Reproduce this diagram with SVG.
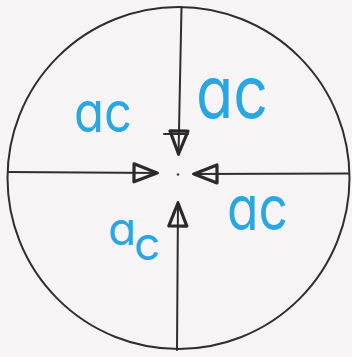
<svg xmlns="http://www.w3.org/2000/svg" width="352" height="357" viewBox="0 0 352 357">
<style>
.ln{stroke:#2e2e2e;stroke-width:2;fill:none;stroke-linecap:round}
.lbl{font-family:Inter,"Noto Sans",sans-serif;font-weight:400;fill:#2aa7e0;font-feature-settings:"cv11" 1}
</style>
<defs>
<marker id="ah" markerUnits="userSpaceOnUse" markerWidth="34" markerHeight="30" viewBox="-30 -15 34 30" refX="0" refY="0" orient="auto">
<path d="M-24,-9 L-24,9 L-1,0 Z" fill="none" stroke="#2a2a2a" stroke-width="3.2" stroke-linejoin="round"/>
</marker>
</defs>
<rect width="352" height="357" fill="#f6f4f5"/>
<circle cx="178.5" cy="178" r="171" fill="none" stroke="#2e2e2e" stroke-width="2"/>
<g id="connectors">
<path class="ln" d="M181.5,7 L178.5,155" marker-end="url(#ah)"/>
<line class="ln" x1="164" y1="134" x2="188" y2="134" stroke-width="2.5"/>
<path class="ln" d="M177,350 L178,202" marker-end="url(#ah)"/>
<path class="ln" d="M8,172 L158,173" marker-end="url(#ah)"/>
<path class="ln" d="M349,173.5 L193,174" marker-end="url(#ah)"/>
</g>
<circle cx="178" cy="174.5" r="1.3" fill="#444"/>
<g id="labels">
<text class="lbl" x="74" y="132" font-size="56" textLength="58" lengthAdjust="spacingAndGlyphs">ac</text>
<text class="lbl" x="196" y="118" font-size="72" textLength="72" lengthAdjust="spacingAndGlyphs">ac</text>
<text class="lbl" x="227" y="230" font-size="63" textLength="61" lengthAdjust="spacingAndGlyphs">ac</text>
<text class="lbl" font-size="46"><tspan x="108" y="245">a</tspan><tspan x="134" y="260">c</tspan></text>
</g>
</svg>
